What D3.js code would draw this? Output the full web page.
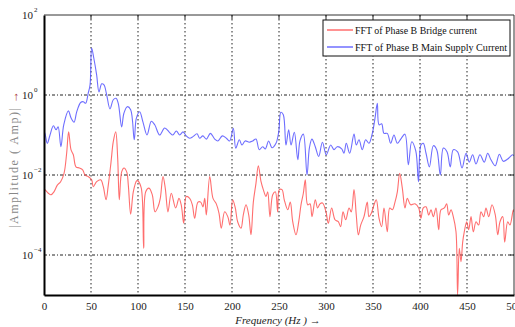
<!DOCTYPE html>
<html><head><meta charset="utf-8">
<script src="https://cdn.jsdelivr.net/npm/d3@7"></script>
<style>
html,body{margin:0;padding:0;background:#fff;}
svg{display:block;font-family:"Liberation Serif","DejaVu Serif",serif;}
</style></head>
<body><svg id="chart" width="515" height="327"></svg>
<script>
const xTicks = [0,50,100,150,200,250,300,350,400,450,500];
const yTicks = [1e-4,1e-2,1,1e2];
const yTickExp = ["\u22124","\u22122","0","2"];
const seriesNames = ["FFT of Phase B Bridge current","FFT of Phase B Main Supply Current"];
const seriesColors = ["#ff4a4a","#4a4aff"];

const blueFreq = [0,1,3.5,6.4,10,12.8,15,18,21,26,28.7,32,34.8,39,41.8,44.3,47,49,50.7,53,56,58.5,61.4,63.8,66.7,70.2,73.7,76.6,79,82.6,85,88.6,92.2,96,98.2,101.8,105.3,109.6,114.2,117.8,123,128.4,133.7,137,140.8,144.4,147.9,151.4,155,158.5,162.8,165.6,169,172.7,177,181.6,185,189.7,194,197.5,201.4,204,207.8,210.6,214,218.4,222,225.5,229,232.6,235.5,239,242.6,246.8,249.7,252,254.6,257.4,260.3,262.8,266.3,270,272.3,275.9,279.8,282.3,285,288.6,292.2,296.2,300.3,305,308.5,312,316.7,319.1,321.6,325.2,329.8,332.2,335.1,338.6,342.2,345.7,349.3,352.1,354.6,356.4,359.2,361.7,365.2,368.8,372.3,375.9,379.5,384,387.6,391.2,395.5,398.4,401,403.5,406.4,410,414.2,417.8,421.6,424.8,428.7,432.2,435.4,440,444.7,449,452.5,456,459.6,463.8,468.4,472,475.5,480,484.4,488.6,493.3,498.6,500];
const blueAmp = [0.12,0.11,0.062,0.10,0.17,0.135,0.16,0.051,0.18,0.40,0.27,0.21,0.38,0.65,0.68,0.62,1.1,1.8,15,8.3,3.2,1.2,1.9,1.8,1.0,0.45,0.76,0.83,0.62,0.16,0.35,0.51,0.43,0.076,0.26,0.38,0.21,0.10,0.22,0.18,0.10,0.15,0.115,0.10,0.126,0.10,0.12,0.095,0.083,0.091,0.107,0.083,0.095,0.079,0.11,0.079,0.071,0.095,0.083,0.071,0.148,0.047,0.076,0.056,0.071,0.066,0.071,0.079,0.043,0.051,0.045,0.071,0.048,0.062,0.12,0.37,0.32,0.056,0.135,0.056,0.117,0.024,0.071,0.105,0.010,0.047,0.079,0.051,0.029,0.066,0.032,0.056,0.043,0.051,0.045,0.035,0.062,0.035,0.105,0.056,0.076,0.043,0.076,0.062,0.11,0.26,0.62,0.18,0.19,0.11,0.11,0.062,0.10,0.062,0.079,0.105,0.018,0.068,0.04,0.0068,0.056,0.062,0.035,0.016,0.054,0.043,0.010,0.047,0.038,0.016,0.043,0.038,0.015,0.035,0.021,0.032,0.019,0.032,0.021,0.035,0.024,0.017,0.033,0.022,0.025,0.032,0.030];

const redFreq = [0,1,4.6,7.4,10.6,14.2,17.7,21.3,24.1,26.2,28.7,31.2,34,37.6,41.1,43.6,47.1,50.7,52.4,56,60.3,63.1,66,68.4,71.3,73.7,76.3,78.4,80.1,82.6,85.1,88,89.7,92.2,95,98.6,100,103.5,106,108.2,111.7,115.2,118.1,121.3,123.7,126.6,129,131.9,135.4,140.1,143.6,146,148.6,151.4,155,157.8,160.3,163.8,166.7,169.1,171,172.7,176.3,179.8,183.3,186.2,188.6,192.2,195.5,197.9,200.7,203.5,206,209.6,212,214.9,217.8,220.2,222.7,225.5,228,230.9,233.3,236.2,238,240.4,243.3,246.1,248.6,250.3,253.2,255.6,259.3,262,264.6,268.1,271,273.4,275.9,278,280.5,283,285.1,288.6,291.1,293.6,296.3,300,302.5,306,309.6,313.1,315.6,318.1,321,324.5,326.9,329.8,332.2,334.4,336.9,340.4,343.9,345.7,348.2,351.1,353.5,356.4,359.2,361.7,365.2,367.8,370.6,373.4,375.9,378.4,381.2,384,386.5,390,394.7,398.6,401,403.5,406.4,409.3,411.7,414.2,417,419.9,422.3,425.9,428.4,430.5,433,435.4,438.3,440,441.8,443.6,445.4,447.1,449.7,451.8,454.3,456.7,459.6,462.4,464.9,467.8,470.2,473.1,476.6,480.1,482.7,485.1,488,490.1,493.3,495.7,499.3,500];
const redAmp = [0.0045,0.0043,0.0035,0.0032,0.0038,0.0056,0.0068,0.011,0.035,0.12,0.043,0.032,0.016,0.015,0.0135,0.010,0.0091,0.0076,0.0051,0.0068,0.0076,0.0051,0.0024,0.0056,0.021,0.068,0.12,0.026,0.0024,0.012,0.015,0.012,0.0056,0.00105,0.0038,0.0072,0.0071,0.0047,0.000148,0.0038,0.0047,0.0032,0.0012,0.0016,0.0026,0.0091,0.0047,0.0012,0.0035,0.0015,0.0026,0.0018,0.00062,0.0029,0.0026,0.0018,0.00083,0.0021,0.0021,0.0016,0.0026,0.0010,0.0091,0.0026,0.0019,0.0011,0.00047,0.0012,0.00091,0.00056,0.0024,0.0015,0.00068,0.00047,0.0010,0.0018,0.0010,0.00032,0.0021,0.0062,0.017,0.0068,0.0043,0.0029,0.0038,0.00091,0.0032,0.0038,0.0012,0.0043,0.0043,0.0024,0.00135,0.0021,0.00068,0.00032,0.00068,0.0018,0.0035,0.0076,0.0018,0.0019,0.00091,0.0024,0.0015,0.0019,0.0020,0.0012,0.00062,0.0015,0.00076,0.00068,0.00051,0.0012,0.00076,0.0015,0.0012,0.0043,0.0010,0.00032,0.00056,0.00091,0.0021,0.00091,0.0011,0.0018,0.0024,0.00083,0.00051,0.0015,0.00038,0.0015,0.00135,0.0021,0.0038,0.011,0.0047,0.0015,0.0026,0.0018,0.0019,0.0015,0.00083,0.0015,0.0016,0.0010,0.00135,0.00091,0.0015,0.00043,0.00135,0.0015,0.0019,0.0010,0.00135,0.00091,0.00038,0.00001,0.000148,0.000068,0.00021,0.00038,0.00068,0.00043,0.00091,0.00038,0.00068,0.00056,0.0012,0.00091,0.0015,0.00091,0.0018,0.0010,0.00032,0.00068,0.00091,0.00021,0.00068,0.00056,0.00135,0.0012];

const svg = d3.select("#chart");
const L = 44, R = 514, T = 15, B = 295;
const x = d3.scaleLinear().domain([0,500]).range([L,R]);
const y = d3.scaleLog().domain([1e-5,1e2]).range([B,T]);

svg.append("defs").append("clipPath").attr("id","clip")
  .append("rect").attr("x",L).attr("y",T).attr("width",R-L).attr("height",B-T);

// grid
const grid = svg.append("g");
grid.selectAll("line.v").data(xTicks.slice(1,-1)).join("line")
  .attr("x1",d=>x(d)).attr("x2",d=>x(d)).attr("y1",T).attr("y2",B)
  .attr("stroke","#222").attr("stroke-width",1).attr("stroke-dasharray","1.5,2.5");
grid.selectAll("line.h").data(yTicks.slice(0,-1)).join("line")
  .attr("x1",L).attr("x2",R).attr("y1",d=>y(d)).attr("y2",d=>y(d))
  .attr("stroke","#222").attr("stroke-width",1).attr("stroke-dasharray","3,2,1,2");

// lines
const line = d3.line().x(d=>x(d[0])).y(d=>y(d[1])).curve(d3.curveCatmullRom.alpha(0.5));
const gLines = svg.append("g").attr("clip-path","url(#clip)");
gLines.append("path").datum(redFreq.map((f,i)=>[f,redAmp[i]]))
  .attr("d",line).attr("fill","none").attr("stroke",seriesColors[0]).attr("stroke-width",1.1).attr("stroke-opacity",0.8);
gLines.append("path").datum(blueFreq.map((f,i)=>[f,blueAmp[i]]))
  .attr("d",line).attr("fill","none").attr("stroke",seriesColors[1]).attr("stroke-width",1.1).attr("stroke-opacity",0.8);

// frame
svg.append("line").attr("x1",L).attr("x2",R).attr("y1",T).attr("y2",T).attr("stroke","#333").attr("stroke-width",1);
svg.append("line").attr("x1",R).attr("x2",R).attr("y1",T).attr("y2",B).attr("stroke","#333").attr("stroke-width",1);
svg.append("g").selectAll("line").data(xTicks.slice(1,-1)).join("line")
  .attr("x1",d=>x(d)).attr("x2",d=>x(d)).attr("y1",T).attr("y2",T+4).attr("stroke","#222");
svg.append("g").selectAll("line").data(yTicks.slice(0,-1)).join("line")
  .attr("x1",R-4).attr("x2",R).attr("y1",d=>y(d)).attr("y2",d=>y(d)).attr("stroke","#222");

// bottom axis
const xAxis = svg.append("g").attr("transform",`translate(0,${B})`)
  .call(d3.axisBottom(x).tickValues(xTicks).tickSize(0).tickPadding(7).tickFormat(d3.format("d")));
xAxis.select(".domain").attr("stroke","#000").attr("stroke-width",2.2);
xAxis.selectAll("text").attr("font-family","Liberation Serif, serif").attr("font-size",11).attr("fill","#222");

// left axis
const yAxis = svg.append("g").attr("transform",`translate(${L},0)`)
  .call(d3.axisLeft(y).tickValues(yTicks).tickSize(0).tickFormat(()=>""));
yAxis.select(".domain").attr("stroke","#000").attr("stroke-width",2);
yAxis.selectAll(".tick").remove();
const yl = svg.append("g").selectAll("g").data(yTicks.map((v,i)=>({v,e:yTickExp[i]}))).join("g")
  .attr("transform",d=>`translate(${L},${y(d.v)})`);
yl.append("text").attr("x",-11).attr("y",4).attr("text-anchor","end")
  .attr("font-size",11).attr("fill","#222").text("10");
yl.append("text").attr("x",-10).attr("y",-3).attr("text-anchor","start")
  .attr("font-size",7).attr("fill","#222").text(d=>d.e);

// axis titles
svg.append("text").attr("transform","translate(18,168) rotate(-90)")
  .attr("text-anchor","middle").attr("font-size",12).attr("fill","#888")
  .attr("textLength",120).attr("lengthAdjust","spacing")
  .text("|Amplitude ( Amp)|");
svg.append("text").attr("transform","translate(18,97) rotate(-90)")
  .attr("text-anchor","middle").attr("font-size",12).attr("fill","#a33")
  .text("\u2192");
svg.append("text").attr("x",278).attr("y",324).attr("text-anchor","middle")
  .attr("font-size",11).attr("font-style","italic").attr("fill","#222")
  .text("Frequency (Hz ) \u2192");

// legend
const lg = svg.append("g");
lg.append("rect").attr("x",323).attr("y",20).attr("width",187).attr("height",36)
  .attr("fill","#fff").attr("stroke","#111").attr("stroke-width",1);
const legendWidths = [122,152];
seriesNames.forEach((n,i)=>{
  const yy = 30 + i*17;
  lg.append("line").attr("x1",327).attr("x2",353).attr("y1",yy).attr("y2",yy)
    .attr("stroke",seriesColors[i]).attr("stroke-width",1.2);
  lg.append("text").attr("x",355).attr("y",yy+4).attr("font-size",11).attr("fill","#111")
    .attr("textLength",legendWidths[i]).attr("lengthAdjust","spacingAndGlyphs").text(n);
});
</script></body></html>
